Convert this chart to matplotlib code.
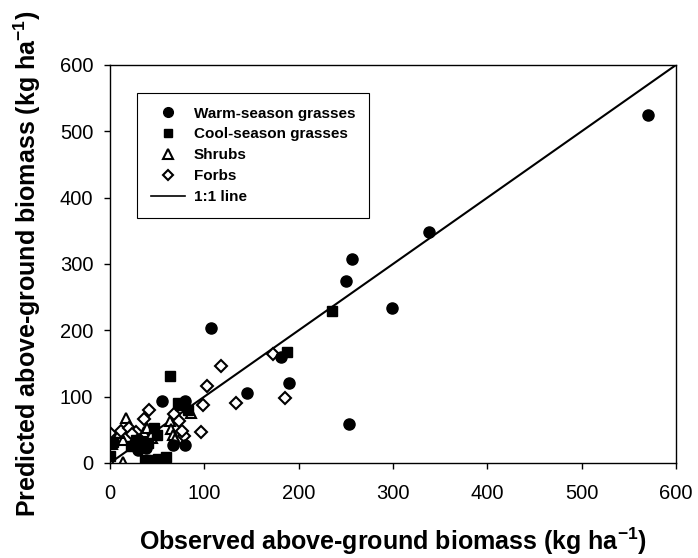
import matplotlib
matplotlib.use('Agg')
import matplotlib.pyplot as plt
from matplotlib.lines import Line2D

plt.rcParams['font.family'] = ['Liberation Sans', 'DejaVu Sans']
plt.rcParams['mathtext.fontset'] = 'custom'
plt.rcParams['mathtext.rm'] = 'Liberation Sans'
plt.rcParams['mathtext.bf'] = 'Liberation Sans:bold'

# observed, predicted (kg ha-1)
warm_obs = [570, 338, 257, 250, 299, 107, 181, 190, 145, 55, 80, 253, 67, 79, 38, 30, 25, 33]
warm_pred = [525, 348, 307, 275, 233, 203, 160, 121, 106, 94, 93, 58, 27, 27, 23, 20, 28, 32]

cool_obs = [235, 188, 64, 74, 83, 72, 47, 50, 3, 0, 37, 42, 51, 59, 28, 22, 40]
cool_pred = [229, 167, 131, 88, 80, 90, 52, 42, 32, 10, 5, 4, 6, 9, 35, 25, 30]

shrub_obs = [17, 20, 36, 44, 45, 64, 65, 67, 69, 86, 2, 14, 14, 0, 39, 10]
shrub_pred = [68, 53, 46, 38, 43, 63, 51, 42, 36, 75, 28, 35, 2, 1, 52, 45]

forb_obs = [173, 118, 103, 185, 134, 99, 41, 36, 68, 73, 78, 76, 96, 0, 12, 20, 28, 28, 23]
forb_pred = [164, 146, 116, 98, 91, 87, 80, 67, 74, 63, 41, 48, 47, 45, 48, 52, 40, 47, 44]

ticks = [0, 100, 200, 300, 400, 500, 600]

fig = plt.figure(figsize=(6.98, 5.58), dpi=100)
ax = fig.add_axes([0.1576, 0.1703, 0.8109, 0.7133])

ax.plot([0, 600], [0, 600], color='black', lw=1.5, zorder=1)
ax.plot(warm_obs, warm_pred, 'o', ms=8, color='black', zorder=3)
ax.plot(cool_obs, cool_pred, 's', ms=7, color='black', zorder=3)
ax.plot(shrub_obs, shrub_pred, '^', ms=7.5, mfc='white', mec='black', mew=1.5, zorder=2)
ax.plot(forb_obs, forb_pred, 'D', ms=6, mfc='white', mec='black', mew=1.5, zorder=2)

ax.set_xlim(0, 600)
ax.set_ylim(0, 600)
ax.set_xticks(ticks)
ax.set_yticks(ticks)
ax.tick_params(direction='out', length=4, width=1, labelsize=14.5)
ax.tick_params(axis='x', pad=11)
ax.tick_params(axis='y', pad=8)
for sp in ax.spines.values():
    sp.set_linewidth(1)

ax.set_xlabel(r'Observed above-ground biomass (kg ha$^{\mathbf{-1}}$)',
              fontsize=18, fontweight='bold', labelpad=16.5)
ax.set_ylabel(r'Predicted above-ground biomass (kg ha$^{\mathbf{-1}}$)',
              fontsize=18, fontweight='bold', labelpad=12)

handles = [
    Line2D([], [], ls='none', marker='o', ms=7, color='black'),
    Line2D([], [], ls='none', marker='s', ms=6, color='black'),
    Line2D([], [], ls='none', marker='^', ms=6.5, mfc='white', mec='black', mew=1.5),
    Line2D([], [], ls='none', marker='D', ms=5, mfc='white', mec='black', mew=1.5),
    Line2D([], [], color='black', lw=1.2),
]
labels = ['Warm-season grasses', 'Cool-season grasses', 'Shrubs', 'Forbs', '1:1 line']
leg = ax.legend(handles, labels, loc='upper left', bbox_to_anchor=(0.048, 0.93),
                frameon=True, fancybox=False, edgecolor='black', framealpha=1,
                prop={'weight': 'bold', 'size': 11}, handlelength=2.2,
                borderpad=0.9, labelspacing=0.45, handletextpad=0.6, borderaxespad=0)
leg.get_frame().set_linewidth(0.8)

fig.savefig('out.png', dpi=100)
